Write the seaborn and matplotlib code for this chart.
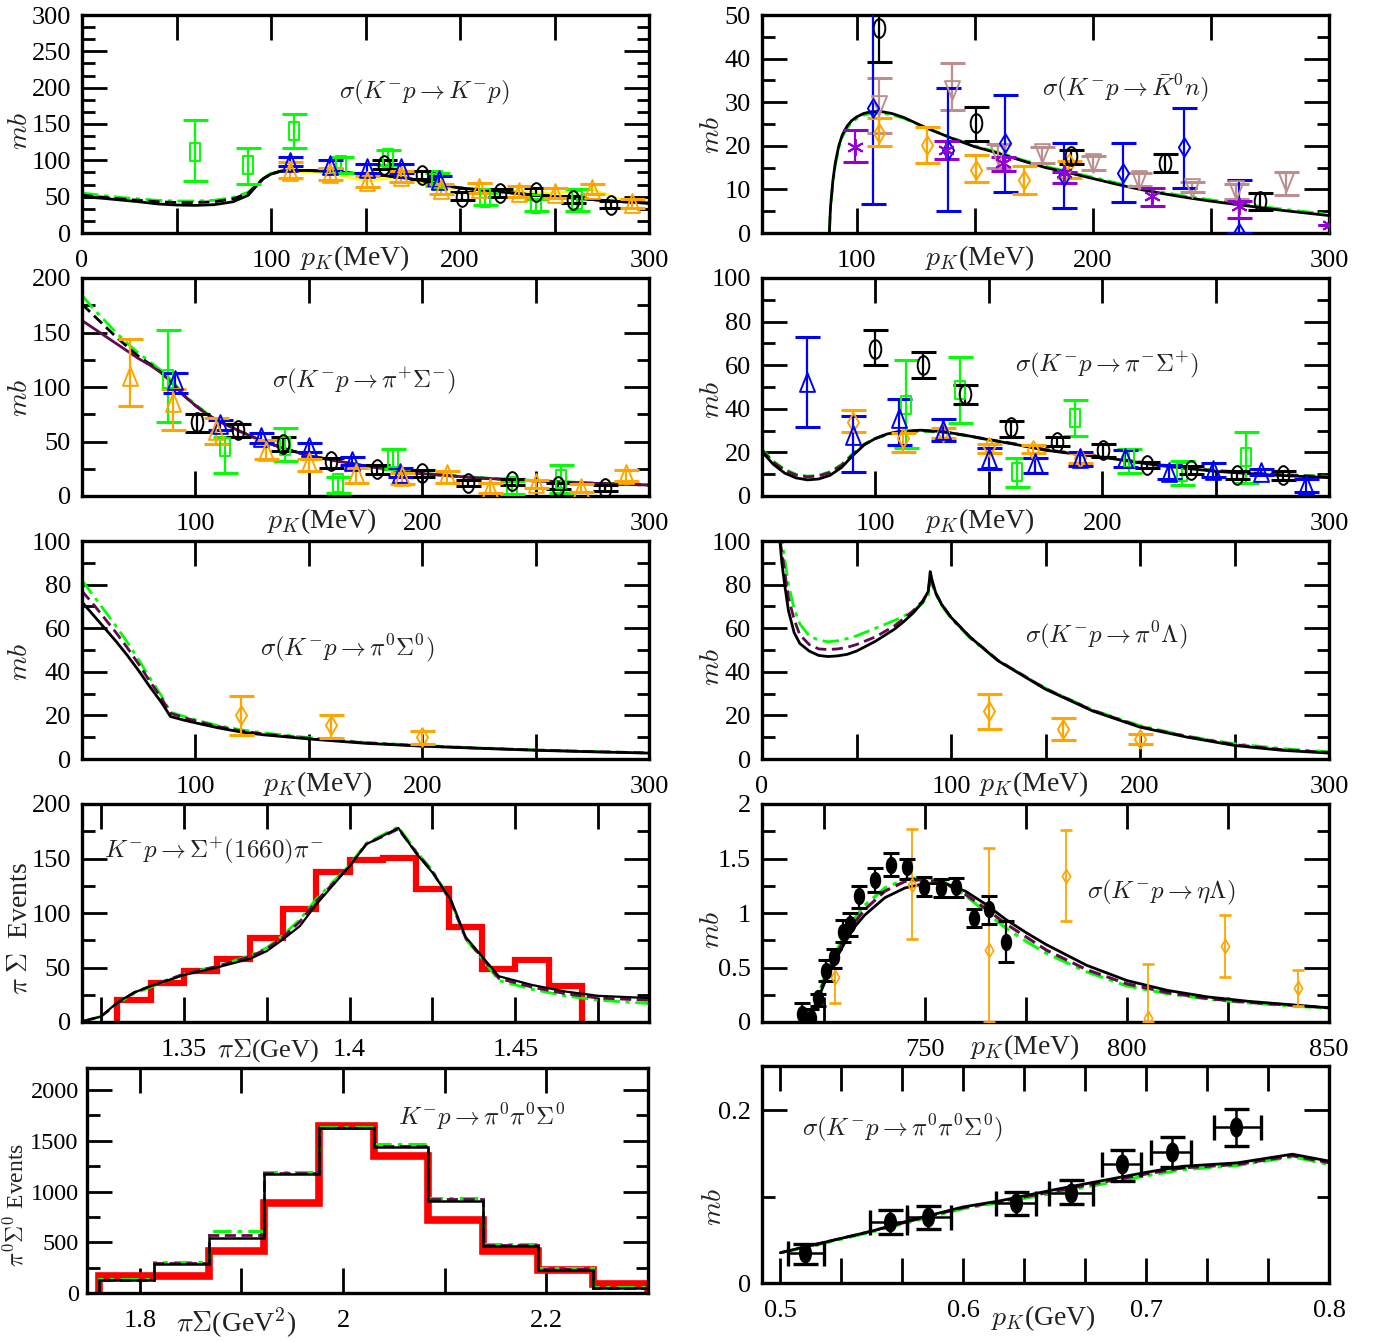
import numpy as np
import matplotlib
matplotlib.use("Agg")
import matplotlib.pyplot as plt
import seaborn as sns
from matplotlib.path import Path
from matplotlib.transforms import Affine2D

sns.set_theme(style="ticks")
plt.rcParams['font.family'] = ['Liberation Serif', 'DejaVu Serif']
plt.rcParams['mathtext.fontset'] = 'cm'

# ---------------- data ----------------
# row 1 left: K-p -> K-p
A_cx = [0, 10, 20, 30, 40, 50, 60, 70, 80, 88, 92, 96, 100, 105, 110, 120, 130, 140, 150,
        160, 170, 180, 190, 200, 220, 240, 260, 280, 300]
A_solid = [50, 48, 45.5, 43, 40, 38.5, 38, 39, 43, 52, 64, 75, 81, 85, 86, 86, 85, 83, 81,
           79, 76, 72, 66, 62, 57, 52, 48, 44, 41]
A_dash = [52, 49.5, 47, 45, 43, 42, 42, 43, 47, 55, 65, 75, 81, 85, 86, 86, 85, 83, 81,
          79, 76, 72, 66, 62, 57, 52, 48, 44, 41]
A_dd = [55, 52, 49, 47, 45, 44, 44, 45, 49, 56, 66, 76, 82, 85, 86, 86, 85, 83, 81,
        79, 76, 72, 66, 62, 57, 52, 48, 44, 41]
A_gx = [60, 88, 112, 137, 162, 188, 213, 240, 262]
A_gy = [112, 94, 140, 93, 103, 73, 48, 40, 46]
A_glo = [71, 67, 117, 82, 93, 64, 39, 30, 30]
A_ghi = [156, 117, 164, 105, 114, 82, 55, 47, 60]
A_bx = [110, 131, 151, 169, 189]
A_by = [98, 94, 89, 89, 73]
A_blo = [92, 88, 83, 83, 66]
A_bhi = [104, 100, 95, 95, 79]
A_ox = [110, 131, 151, 169, 190, 210, 231, 250, 270, 291]
A_oy = [85, 82, 71, 78, 60, 62, 57, 55, 60, 41]
A_olo = [76, 73, 63, 70, 53, 55, 50, 48, 53, 35]
A_ohi = [98, 90, 79, 86, 67, 69, 64, 62, 67, 47]
A_kx = [160, 180, 201, 221, 240, 260, 280]
A_ky = [94, 80, 50, 55, 57, 46, 39]
A_klo = [88, 75, 45, 50, 52, 41, 34]
A_khi = [100, 85, 56, 60, 62, 51, 44]

# row 1 right: K-p -> K0bar n
B_cx = [88.5, 89, 90, 91, 92.5, 94, 96, 98, 100, 103, 106, 110, 115, 120, 130, 140, 150,
        160, 170, 180, 190, 200, 210, 220, 230, 240, 250, 260, 270, 280, 290, 300]
B_solid = [0, 6, 12, 16, 20, 22.5, 24.5, 25.8, 26.6, 27.4, 27.8, 27.9, 27.4, 26.5, 24, 21.8,
           19.8, 18.3, 16.6, 15, 13.8, 12.5, 11.2, 10, 9, 8.1, 7.3, 6.6, 5.9, 5.2, 4.6, 4.0]
B_dd = [0, 5.5, 11.5, 15.5, 19.5, 22, 24, 25.4, 26.2, 27, 27.4, 27.5, 27.1, 26.3, 24, 21.9,
        20, 18.5, 16.8, 15.3, 14, 12.8, 11.5, 10.3, 9.3, 8.4, 7.6, 6.9, 6.2, 5.5, 4.9, 4.3]
B_px = [99.5, 137.7, 161.9, 188, 225, 262, 300.6]
B_py = [19.8, 19, 16, 13.7, 8.4, 6.1, 1.9]
B_plo = [16.3, 17, 14.3, 11.5, 6.3, 3.4, 1.9]
B_phi = [23.7, 21, 17.4, 14.1, 10.3, 7.3, 1.9]
B_bx = [107, 138.6, 162.8, 188, 213, 238.6, 262]
B_by = [28.6, 19, 20.6, 13, 13.7, 19.8, 0]
B_blo = [6.7, 5, 9.3, 5.7, 7, 10.3, 0]
B_bhi = [52, 33.2, 31.7, 20.6, 20.6, 28.6, 12.2]
B_ox = [109.7, 130, 150.7, 171, 189.8]
B_oy = [22.9, 20.2, 14.5, 12.2, 16]
B_olo = [20, 16, 11.6, 9, 12.6]
B_ohi = [26.3, 24.2, 17.8, 15.3, 16.6]
B_rx = [109.7, 140.4, 160, 178.6, 200, 219.6, 242, 260.5, 282]
B_ry = [29.4, 32.8, 17.9, 18.3, 16, 12.2, 10.3, 9.9, 11.8]
B_rlo = [22.9, 28.2, 14.9, 16, 14.5, 10.8, 9.3, 7.8, 8.8]
B_rhi = [35.5, 38.9, 20.5, 19.8, 17.6, 13.7, 11.7, 11.2, 14.1]
B_kx = [109.7, 150.7, 190.7, 230.7, 270.8]
B_ky = [47, 25.2, 17.6, 16, 7.3]
B_klo = [39.2, 21.2, 15.9, 14, 5.3]
B_khi = [52, 29, 19.1, 18.1, 9.2]

# row 2 left: K-p -> pi+ Sigma-
C_cx = [50, 55, 60, 65, 70, 75, 80, 85, 90, 95, 100, 105, 110, 120, 130, 140, 150, 160,
        175, 190, 200, 225, 250, 275, 300]
C_solid = [161, 154, 147, 140, 133, 126, 120, 113, 103, 92, 83, 75, 69, 59, 50, 43, 37, 33,
           27.5, 23, 20.5, 16.5, 13.8, 11.7, 10]
C_dash = [176, 166, 156, 146, 137, 128, 121, 113, 103, 92, 83, 75, 69, 59, 50, 43, 37, 33,
          27.5, 23, 20.5, 16.5, 13.8, 11.7, 10]
C_dd = [184, 172, 161, 150, 140, 131, 123, 115, 105, 93, 84, 76, 69.5, 59, 50, 43, 37.5, 33,
        28, 23.5, 21, 17, 14.2, 12, 10.3]
C_ox = [71, 90, 109, 131, 150, 171, 191, 211, 230, 250, 270, 290]
C_oy = [110, 86, 61, 41, 31, 21.5, 18.4, 20, 7.7, 12, 7.7, 20]
C_olo = [83, 61, 47.5, 34, 23, 12, 10.7, 12, 3, 7.7, 3.7, 14]
C_ohi = [144, 98, 72, 51, 34, 26, 21, 23, 12.3, 15, 10.7, 24]
C_gx = [88, 113, 139.5, 162.8, 187, 239.7, 261]
C_gy = [107, 44.5, 46, 12.3, 35, 9.2, 15.3]
C_glo = [67.5, 21.5, 32, 3, 24.5, 2, 3]
C_ghi = [152, 53.7, 62, 17, 43, 13.8, 28.5]
C_bx = [91, 111, 129, 150, 169, 190]
C_by = [106, 66, 53.7, 44.5, 32, 21.5]
C_blo = [94.5, 61, 49, 40, 28, 17]
C_bhi = [113, 70, 58, 49, 36, 26]
C_kx = [100.6, 119, 138.5, 160, 180, 200, 220, 239.7, 260, 280.5]
C_ky = [67.5, 61, 47.5, 32, 24.5, 21.5, 12.3, 13.8, 9.2, 7.7]
C_klo = [59, 54, 41, 26, 20, 17, 9, 10, 6, 5]
C_khi = [75, 66, 54, 35, 28, 24, 15, 16, 12, 10]

# row 2 right: K-p -> pi- Sigma+
D_cx = [50, 55, 60, 65, 70, 75, 80, 85, 90, 95, 100, 105, 110, 120, 130, 140, 150, 160,
        175, 190, 200, 225, 250, 275, 300]
D_solid = [20.3, 14.5, 10.5, 8.3, 7.4, 7.8, 9.5, 13, 18.5, 23.4, 26.4, 28.4, 29.5, 30.2, 29.5,
           27.8, 25.8, 24, 21, 19, 17.8, 14, 11.3, 9.6, 8.4]
D_dash = [21, 15.5, 11.8, 9.6, 8.8, 9.2, 10.8, 14, 19, 23.6, 26.4, 28.3, 29.3, 30, 29.4,
          27.8, 25.9, 24.2, 21.3, 19.2, 18, 14.2, 11.6, 9.9, 8.8]
D_dd = [21.5, 16, 12.3, 10, 9.1, 9.5, 11.2, 14.5, 19.5, 23.8, 26.3, 28, 29, 29.7, 29.2,
        27.6, 25.8, 24.1, 21.2, 19.2, 18.1, 14.4, 11.8, 10.1, 9]
D_bx = [70, 90, 110.4, 129.7, 150, 170.4, 190, 210, 229.4, 248.7, 270, 290]
D_by = [52.4, 28, 35.6, 30.2, 17.3, 15, 17.3, 17.3, 11, 11.9, 11, 5]
D_blo = [31.5, 10.8, 23.4, 25.2, 12.4, 10.4, 13.7, 13.4, 8, 8.8, 9.5, 2]
D_bhi = [73, 36.8, 44.7, 35.3, 22, 17.3, 20.3, 21, 14, 15, 12.5, 8]
D_ox = [90, 112, 129.7, 150, 169.4, 190]
D_oy = [34, 26.4, 29.5, 22.6, 21, 17.3]
D_olo = [29.5, 20, 26.4, 19.5, 19.5, 15]
D_ohi = [39.4, 28.7, 31, 23.8, 23.4, 19.5]
D_gx = [113.3, 137.5, 162.6, 187.8, 212, 235, 263.2]
D_gy = [41.7, 48.5, 11.1, 35.9, 17.3, 11, 18]
D_glo = [21.8, 33.6, 4.3, 27.6, 10.4, 5, 5.8]
D_ghi = [62.3, 63.8, 17.6, 44, 21.4, 16, 29.2]
D_kx = [99.7, 121, 139.4, 159.7, 180, 200.4, 219.7, 239, 259.4, 279.7]
D_ky = [67.6, 60, 47, 31.8, 24.9, 21, 14.2, 11.9, 9.6, 9.6]
D_klo = [60, 54.2, 42, 27.2, 22.9, 18, 12.7, 10.2, 7.9, 7.4]
D_khi = [76.3, 66, 50.8, 34.4, 26.9, 23.8, 15.8, 13.7, 11.3, 11.3]

# row 3 left: K-p -> pi0 Sigma0
E_cx = [50, 55, 60, 65, 70, 75, 80, 85, 89, 95, 100, 110, 120, 130, 150, 175, 200, 225, 250, 275, 300]
E_solid = [72, 66, 60, 54, 47.5, 40.5, 33, 26, 19.5, 17.8, 16.6, 14.3, 12.4, 11.1, 9.2, 7.2,
           5.9, 4.9, 4.0, 3.3, 2.7]
E_dash = [77, 71, 64.5, 58, 51, 43.5, 35.5, 28, 21, 19, 17.5, 14.9, 12.9, 11.5, 9.5, 7.4,
          6.0, 5.0, 4.1, 3.4, 2.8]
E_dd = [82, 75, 68, 61, 53.5, 45.5, 37, 29, 21.5, 19.5, 18, 15.3, 13.4, 12, 9.8, 7.6,
        6.2, 5.1, 4.2, 3.4, 2.8]
E_ox = [120, 160, 200]
E_oy = [20, 15.4, 10]
E_olo = [10.8, 9.8, 7]
E_ohi = [29.1, 20, 13]

# row 3 right: K-p -> pi0 Lambda
F_cx = [9.5, 10.5, 12, 14, 17, 20, 25, 30, 35, 40, 45, 50, 60, 70, 75, 80, 85, 88, 89, 90,
        92, 95, 100, 110, 125, 150, 175, 200, 225, 250, 275, 300]
F_solid = [100, 90, 80, 68, 58, 53, 49.5, 47.5, 47, 47.3, 48, 49.5, 54, 59.5, 63, 67, 72, 77,
           86, 82, 76, 71, 65, 56, 45, 32, 22, 14.6, 10, 6.2, 4, 2.7]
F_dash = [100, 95, 86, 74, 64, 57, 52.5, 50.5, 50.2, 50.5, 51.2, 52.5, 56, 61, 64.5, 68, 72.5, 77,
          84, 81, 76, 71, 65, 56, 45.2, 32.3, 22.3, 14.9, 10.3, 6.6, 4.3, 3.0]
F_dd = [106, 100, 92, 80, 69, 62, 56.5, 54.5, 53.8, 54.2, 55.2, 56.5, 60, 63.5, 65.5, 68, 71.5, 75,
        82, 80, 75.5, 70.5, 64.5, 55.5, 45, 32.5, 22.5, 15.3, 10.5, 7, 4.8, 3.3]
F_ox = [120, 159.5, 200]
F_oy = [21.8, 13.9, 9.3]
F_olo = [13.9, 8.8, 7]
F_ohi = [29.9, 18.9, 11.3]

# row 4 left: K-p -> Sigma+(1660) pi-
G_edges = [1.33, 1.34, 1.35, 1.36, 1.37, 1.38, 1.39, 1.40, 1.41, 1.42, 1.43, 1.44, 1.45, 1.46, 1.47]
G_hist = [20, 36, 46.5, 58, 77.5, 104, 137.7, 149, 150.5, 121.6, 87.5, 48.6, 57, 33.4]
G_cx = [1.32, 1.325, 1.33, 1.335, 1.34, 1.35, 1.36, 1.37, 1.375, 1.38, 1.385, 1.39, 1.40,
        1.405, 1.4147, 1.42, 1.425, 1.4306, 1.435, 1.44, 1.445, 1.455, 1.465, 1.475, 1.49]
G_solid = [1, 5, 18, 27, 33, 43, 50, 58, 65, 76, 88, 108, 143, 163, 178, 155, 137, 112, 78,
           60, 42, 34, 28, 24, 22]
G_dash = [1, 5, 17, 27, 33, 44, 51, 60, 67, 78, 92, 111, 143, 163, 177, 156, 138, 110, 77,
          59, 40, 32, 26, 22, 20]
G_dd = [1, 5, 17, 26, 32, 44, 51, 61, 68, 80, 94, 113, 144, 164, 179, 157, 139, 111, 76,
        58, 38, 30, 24, 20, 17]

# row 4 right: K-p -> eta Lambda
H_cx = [721.5, 723, 725, 727.5, 730, 732.5, 735, 740, 745, 750, 755, 760, 765, 770, 775, 780,
        790, 800, 810, 820, 830, 840, 850]
H_solid = [0, 0.17, 0.35, 0.55, 0.72, 0.87, 0.98, 1.14, 1.23, 1.27, 1.27, 1.2, 1.08, 0.94,
           0.82, 0.71, 0.52, 0.38, 0.29, 0.23, 0.19, 0.16, 0.13]
H_dash = [0, 0.18, 0.38, 0.58, 0.76, 0.91, 1.03, 1.2, 1.29, 1.31, 1.27, 1.17, 1.04, 0.9,
          0.78, 0.66, 0.48, 0.35, 0.27, 0.215, 0.18, 0.155, 0.13]
H_dd = [0, 0.19, 0.4, 0.61, 0.8, 0.95, 1.07, 1.23, 1.31, 1.33, 1.28, 1.16, 1.01, 0.86,
        0.74, 0.63, 0.46, 0.33, 0.26, 0.21, 0.175, 0.15, 0.125]
H_kx = [719.6, 721.8, 723.4, 725.5, 727.5, 729.6, 731.5, 733.7, 737.5, 741.6, 745.4, 749.8,
        753.8, 757.6, 762, 765.8, 769.9]
H_ky = [0.076, 0.04, 0.22, 0.47, 0.6, 0.83, 0.9, 1.16, 1.3, 1.44, 1.42, 1.24, 1.23, 1.24,
        0.95, 1.04, 0.73]
H_klo = [0.0, 0.0, 0.15, 0.38, 0.5, 0.73, 0.79, 1.05, 1.19, 1.34, 1.31, 1.16, 1.15, 1.15,
         0.87, 0.9, 0.55]
H_khi = [0.17, 0.12, 0.26, 0.57, 0.67, 0.94, 1.0, 1.25, 1.41, 1.55, 1.5, 1.33, 1.31, 1.32,
         1.04, 1.16, 0.93]
H_ox = [727.7, 746.7, 765.8, 784.8, 805.3, 824.3, 842.3]
H_oy = [0.41, 1.26, 0.66, 1.34, 0.04, 0.7, 0.31]
H_olo = [0.17, 0.76, 0.0, 0.93, 0.0, 0.41, 0.15]
H_ohi = [0.67, 1.77, 1.6, 1.76, 0.53, 0.98, 0.48]

# row 5 left: K-p -> pi0 pi0 Sigma0 (invariant mass squared)
I_edges = [1.76, 1.814, 1.868, 1.922, 1.976, 2.03, 2.084, 2.138, 2.192, 2.246, 2.3]
I_red = [170, 170, 411, 890, 1641, 1347, 718, 418, 222, 85]
I_black = [124, 287, 541, 1168, 1625, 1435, 907, 467, 228, 49]
I_maroon = [130, 295, 574, 1180, 1628, 1450, 925, 475, 236, 54]
I_green = [135, 303, 607, 1190, 1631, 1471, 940, 483, 245, 59]

# row 5 right: sigma(K-p -> pi0 pi0 Sigma0)
J_cx = [0.5, 0.52, 0.55, 0.57, 0.6, 0.62, 0.65, 0.68, 0.7, 0.72, 0.75, 0.78, 0.8]
J_solid = [0.035, 0.045, 0.06, 0.072, 0.088, 0.095, 0.108, 0.12, 0.128, 0.135, 0.139, 0.149, 0.141]
J_dash = [0.035, 0.045, 0.06, 0.071, 0.087, 0.094, 0.106, 0.118, 0.126, 0.133, 0.137, 0.147, 0.139]
J_dd = [0.035, 0.044, 0.059, 0.07, 0.086, 0.093, 0.104, 0.116, 0.124, 0.131, 0.136, 0.146, 0.137]
J_x = [0.5137, 0.560, 0.581, 0.6288, 0.659, 0.687, 0.714, 0.749]
J_y = [0.0345, 0.0709, 0.0759, 0.092, 0.104, 0.138, 0.151, 0.181]
J_ylo = [0.022, 0.057, 0.063, 0.0785, 0.091, 0.118, 0.134, 0.158]
J_yhi = [0.045, 0.084, 0.089, 0.105, 0.1195, 0.154, 0.1686, 0.201]
J_xlo = [0.504, 0.549, 0.5695, 0.618, 0.647, 0.676, 0.7026, 0.737]
J_xhi = [0.524, 0.5695, 0.5935, 0.6396, 0.671, 0.697, 0.7247, 0.763]

# ---------------- styles ----------------
GREEN = '#00ff00'
BLUE = '#0000ff'
ORANGE = '#ffa500'
ROSY = '#bc8f8f'
VIOLET = '#9400d3'
MAROON = '#620b4c'
RED = '#ff0000'
DASH = (0, (4, 2))
DASHDOT = (0, (6, 2, 1.5, 2))

ELL = Path.unit_circle().transformed(Affine2D().scale(0.62, 1.0))
RECT = Path([(-0.55, -1), (0.55, -1), (0.55, 1), (-0.55, 1), (-0.55, -1)], closed=True)
TRIUP = Path([(-0.8, -1), (0.8, -1), (0, 1), (-0.8, -1)], closed=True)
TRIDN = Path([(-0.8, 1), (0.8, 1), (0, -1), (-0.8, 1)], closed=True)
DIAM = Path([(0, -1), (0.6, 0), (0, 1), (-0.6, 0), (0, -1)], closed=True)


def curve(ax, x, y, color, ls='-', lw=1.8):
    sns.lineplot(x=x, y=y, ax=ax, color=color, linestyle=ls, linewidth=lw,
                 sort=False, estimator=None, errorbar=None, legend=False)


def pts(ax, x, y, lo, hi, color, marker, ms=13.5, cap=9, lw=1.6, filled=False,
        xlo=None, xhi=None, mew=1.4):
    yerr = [np.subtract(y, lo), np.subtract(hi, y)]
    xerr = None
    if xlo is not None:
        xerr = [np.subtract(x, xlo), np.subtract(xhi, x)]
    ax.errorbar(x, y, yerr=yerr, xerr=xerr, fmt='none', ecolor=color, elinewidth=lw,
                capsize=cap, capthick=lw + 0.6, zorder=3)
    ax.plot(x, y, linestyle='none', marker=marker, markersize=ms, markeredgewidth=mew,
            markeredgecolor=color, markerfacecolor=color if filled else 'none', zorder=4)


def setup(ax, xlim, ylim, xt, xtl, yt, ytl, ymin):
    ax.set_xlim(xlim)
    ax.set_ylim(ylim)
    ax.set_xticks(xt)
    ax.set_xticklabels(xtl)
    ax.set_yticks(yt)
    ax.set_yticklabels(ytl)
    ax.set_yticks(ymin, minor=True)
    ax.tick_params(which='both', direction='in', top=True, right=True, width=2.0,
                   colors='black', labelsize=19)
    ax.tick_params(which='major', length=18, pad=8)
    ax.tick_params(which='minor', length=9)
    ax.tick_params(axis='x', which='major', pad=12)
    for s in ax.spines.values():
        s.set_linewidth(2.4)
        s.set_color('black')
    ax.set_xlabel('')
    ax.set_ylabel('')


def txt(ax, x, y, s, size=18, rot=0):
    ax.text(x, y, s, transform=ax.transAxes, ha='center', va='center', fontsize=size,
            rotation=rot, color='#222222')


fig = plt.figure(figsize=(13.78, 13.42), dpi=100)
W, H = 1378.0, 1342.0


def box(x0, x1, y0, y1):
    return fig.add_axes([x0 / W, 1 - y1 / H, (x1 - x0) / W, (y1 - y0) / H])


axA = box(82, 649, 15, 233)
axB = box(762, 1329, 15, 233)
axC = box(82, 649, 278, 496)
axD = box(762, 1329, 278, 496)
axE = box(82, 649, 541, 759)
axF = box(762, 1329, 541, 759)
axG = box(82, 649, 804, 1022)
axH = box(762, 1329, 804, 1022)
axI = box(87, 648, 1068, 1293)
axJ = box(762, 1329, 1066, 1283)

mev_full = [0, 50, 100, 150, 200, 250, 300]
mev_full_l = ['0', '', '100', '', '200', '', '300']
mev_part = [100, 150, 200, 250, 300]
mev_part_l = ['100', '', '200', '', '300']

# ---- A ----
ax = axA
setup(ax, (0, 300), (0, 300), mev_full, mev_full_l, [0, 50, 100, 150, 200, 250, 300],
      ['0', '50', '100', '150', '200', '250', '300'],
      [16.67, 33.33, 66.67, 83.33, 116.67, 133.33, 166.67, 183.33, 216.67, 233.33, 266.67, 283.33])
pts(ax, A_gx, A_gy, A_glo, A_ghi, GREEN, RECT)
ax.plot(A_ox, A_oy, color='#ffff00', lw=1.6, zorder=2)
pts(ax, A_kx, A_ky, A_klo, A_khi, 'black', ELL)
pts(ax, A_bx, A_by, A_blo, A_bhi, BLUE, TRIUP)
pts(ax, A_ox, A_oy, A_olo, A_ohi, ORANGE, TRIUP)
curve(ax, A_cx, A_dd, GREEN, DASHDOT, 2.0)
curve(ax, A_cx, A_dash, 'black', DASH, 2.0)
curve(ax, A_cx, A_solid, 'black', '-', 2.0)
txt(ax, 0.603, 0.647, r'$\sigma(K^{-}p\rightarrow K^{-}p)$')
txt(ax, 0.481, -0.115, r'$p_K$(MeV)', 20)
txt(ax, -0.109, 0.47, r'$mb$', 20, 90)

# ---- B ----
ax = axB
setup(ax, (60, 300), (0, 50), mev_part, mev_part_l, [0, 10, 20, 30, 40, 50],
      ['0', '10', '20', '30', '40', '50'], [5, 15, 25, 35, 45])
pts(ax, B_rx, B_ry, B_rlo, B_rhi, ROSY, TRIDN)
pts(ax, B_bx, B_by, B_blo, B_bhi, BLUE, DIAM)
pts(ax, B_ox, B_oy, B_olo, B_ohi, ORANGE, DIAM)
pts(ax, B_kx, B_ky, B_klo, B_khi, 'black', ELL)
pts(ax, B_px, B_py, B_plo, B_phi, VIOLET, (6, 2, 0), ms=12)
curve(ax, B_cx, B_dd, GREEN, DASHDOT, 2.0)
curve(ax, B_cx, B_solid, 'black', '-', 2.0)
txt(ax, 0.640, 0.665, r'$\sigma(K^{-}p\rightarrow \bar{K}^{0}n)$')
txt(ax, 0.384, -0.115, r'$p_K$(MeV)', 20)
txt(ax, -0.088, 0.45, r'$mb$', 20, 90)

# ---- C ----
ax = axC
setup(ax, (50, 300), (0, 200), mev_part, mev_part_l, [0, 50, 100, 150, 200],
      ['0', '50', '100', '150', '200'], [25, 75, 125, 175])
pts(ax, C_gx, C_gy, C_glo, C_ghi, GREEN, RECT)
pts(ax, C_kx, C_ky, C_klo, C_khi, 'black', ELL)
pts(ax, C_bx, C_by, C_blo, C_bhi, BLUE, TRIUP)
pts(ax, C_ox, C_oy, C_olo, C_ohi, ORANGE, TRIUP)
curve(ax, C_cx, C_dd, GREEN, DASHDOT, 2.0)
curve(ax, C_cx, C_dash, 'black', DASH, 2.0)
curve(ax, C_cx, C_solid, MAROON, '-', 2.0)
txt(ax, 0.497, 0.528, r'$\sigma(K^{-}p\rightarrow \pi^{+}\Sigma^{-})$')
txt(ax, 0.423, -0.115, r'$p_K$(MeV)', 20)
txt(ax, -0.109, 0.45, r'$mb$', 20, 90)

# ---- D ----
ax = axD
setup(ax, (50, 300), (0, 100), mev_part, mev_part_l, [0, 20, 40, 60, 80, 100],
      ['0', '20', '40', '60', '80', '100'], [10, 30, 50, 70, 90])
pts(ax, D_gx, D_gy, D_glo, D_ghi, GREEN, RECT)
pts(ax, D_kx, D_ky, D_klo, D_khi, 'black', ELL)
pts(ax, D_ox, D_oy, D_olo, D_ohi, ORANGE, DIAM)
pts(ax, D_bx, D_by, D_blo, D_bhi, BLUE, TRIUP)
curve(ax, D_cx, D_dd, GREEN, DASH, 2.0)
curve(ax, D_cx, D_dash, MAROON, DASH, 2.0)
curve(ax, D_cx, D_solid, 'black', '-', 2.0)
txt(ax, 0.608, 0.601, r'$\sigma(K^{-}p\rightarrow \pi^{-}\Sigma^{+})$')
txt(ax, 0.384, -0.115, r'$p_K$(MeV)', 20)
txt(ax, -0.088, 0.44, r'$mb$', 20, 90)

# ---- E ----
ax = axE
setup(ax, (50, 300), (0, 100), mev_part, mev_part_l, [0, 20, 40, 60, 80, 100],
      ['0', '20', '40', '60', '80', '100'], [10, 30, 50, 70, 90])
pts(ax, E_ox, E_oy, E_olo, E_ohi, ORANGE, DIAM)
curve(ax, E_cx, E_dd, GREEN, DASHDOT, 2.0)
curve(ax, E_cx, E_dash, MAROON, DASH, 2.0)
curve(ax, E_cx, E_solid, 'black', '-', 2.0)
txt(ax, 0.467, 0.509, r'$\sigma(K^{-}p\rightarrow \pi^{0}\Sigma^{0})$')
txt(ax, 0.416, -0.115, r'$p_K$(MeV)', 20)
txt(ax, -0.109, 0.445, r'$mb$', 20, 90)

# ---- F ----
ax = axF
setup(ax, (0, 300), (0, 100), mev_full, mev_full_l, [0, 20, 40, 60, 80, 100],
      ['0', '20', '40', '60', '80', '100'], [10, 30, 50, 70, 90])
pts(ax, F_ox, F_oy, F_olo, F_ohi, ORANGE, DIAM)
curve(ax, F_cx, F_dd, GREEN, DASHDOT, 2.0)
curve(ax, F_cx, F_dash, MAROON, DASH, 2.0)
curve(ax, F_cx, F_solid, 'black', '-', 2.0)
txt(ax, 0.607, 0.569, r'$\sigma(K^{-}p\rightarrow \pi^{0}\Lambda)$')
txt(ax, 0.48, -0.115, r'$p_K$(MeV)', 20)
txt(ax, -0.088, 0.42, r'$mb$', 20, 90)

# ---- G ----
ax = axG
setup(ax, (1.3193, 1.4903), (0, 200), [1.325, 1.35, 1.375, 1.4, 1.425, 1.45, 1.475],
      ['', '1.35', '', '1.4', '', '1.45', ''], [0, 50, 100, 150, 200],
      ['0', '50', '100', '150', '200'], [25, 75, 125, 175])
ax.stairs(G_hist, G_edges, color=RED, linewidth=4.5, baseline=0, zorder=2)
curve(ax, G_cx, G_dd, GREEN, DASHDOT, 2.0)
curve(ax, G_cx, G_dash, MAROON, DASH, 2.0)
curve(ax, G_cx, G_solid, 'black', '-', 1.6)
txt(ax, 0.233, 0.784, r'$K^{-}p\rightarrow \Sigma^{+}(1660)\pi^{-}$')
txt(ax, 0.328, -0.13, r'$\pi\Sigma$(GeV)', 19)
txt(ax, -0.109, 0.43, r'$\pi\;\Sigma$  Events', 20, 90)

# ---- H ----
ax = axH
setup(ax, (709.6, 850), (0, 2), [725, 750, 775, 800, 825, 850],
      ['', '750', '', '800', '', '850'], [0, 0.5, 1, 1.5, 2],
      ['0', '0.5', '1', '1.5', '2'], [0.25, 0.75, 1.25, 1.75])
pts(ax, H_ox, H_oy, H_olo, H_ohi, ORANGE, DIAM, ms=10, cap=4, lw=1.3, mew=1.2)
pts(ax, H_kx, H_ky, H_klo, H_khi, 'black', ELL, ms=11, cap=6, lw=1.6, filled=True)
curve(ax, H_cx, H_dd, GREEN, DASHDOT, 2.2)
curve(ax, H_cx, H_dash, MAROON, DASH, 2.2)
curve(ax, H_cx, H_solid, 'black', '-', 2.0)
txt(ax, 0.704, 0.592, r'$\sigma(K^{-}p\rightarrow \eta\Lambda)$')
txt(ax, 0.464, -0.115, r'$p_K$(MeV)', 20)
txt(ax, -0.088, 0.42, r'$mb$', 20, 90)

# ---- I ----
ax = axI
setup(ax, (1.748, 2.3), (0, 2217), [1.8, 1.9, 2.0, 2.1, 2.2], ['1.8', '', '2', '', '2.2'],
      [0, 500, 1000, 1500, 2000], ['0', '500', '1000', '1500', '2000'], [250, 750, 1250, 1750])
ax.tick_params(axis='y', labelsize=17.5, pad=6)
ax.stairs(I_red, I_edges, color=RED, linewidth=5.5, baseline=0, zorder=2)
ax.stairs(I_green, I_edges, color=GREEN, linewidth=2.2, linestyle=DASHDOT, baseline=0, zorder=3)
ax.stairs(I_maroon, I_edges, color=MAROON, linewidth=2.0, linestyle=DASH, baseline=0, zorder=3)
ax.stairs(I_black, I_edges, color='black', linewidth=1.8, baseline=0, zorder=4)
txt(ax, 0.704, 0.782, r'$K^{-}p\rightarrow \pi^{0}\pi^{0}\Sigma^{0}$')
txt(ax, 0.266, -0.133, r'$\pi\Sigma$(GeV$^{2}$)', 20)
txt(ax, -0.126, 0.39, r'$\pi^{0}\Sigma^{0}$ Events', 17, 90)

# ---- J ----
ax = axJ
setup(ax, (0.49, 0.8), (0, 0.251),
      [0.5, 0.5333, 0.5667, 0.6, 0.6333, 0.6667, 0.7, 0.7333, 0.7667, 0.8],
      ['0.5', '', '', '0.6', '', '', '0.7', '', '', '0.8'], [0, 0.2], ['0', '0.2'], [0.1])
pts(ax, J_x, J_y, J_ylo, J_yhi, 'black', ELL, ms=13, cap=9, lw=1.8, filled=True,
    xlo=J_xlo, xhi=J_xhi)
curve(ax, J_cx, J_dd, GREEN, DASHDOT, 2.2)
curve(ax, J_cx, J_dash, MAROON, DASH, 2.0)
curve(ax, J_cx, J_solid, 'black', '-', 2.0)
txt(ax, 0.247, 0.714, r'$\sigma(K^{-}p\rightarrow \pi^{0}\pi^{0}\Sigma^{0})$')
txt(ax, 0.496, -0.16, r'$p_K$(GeV)', 20)
txt(ax, -0.083, 0.35, r'$mb$', 20, 90)

fig.savefig('out.png', dpi=100)
